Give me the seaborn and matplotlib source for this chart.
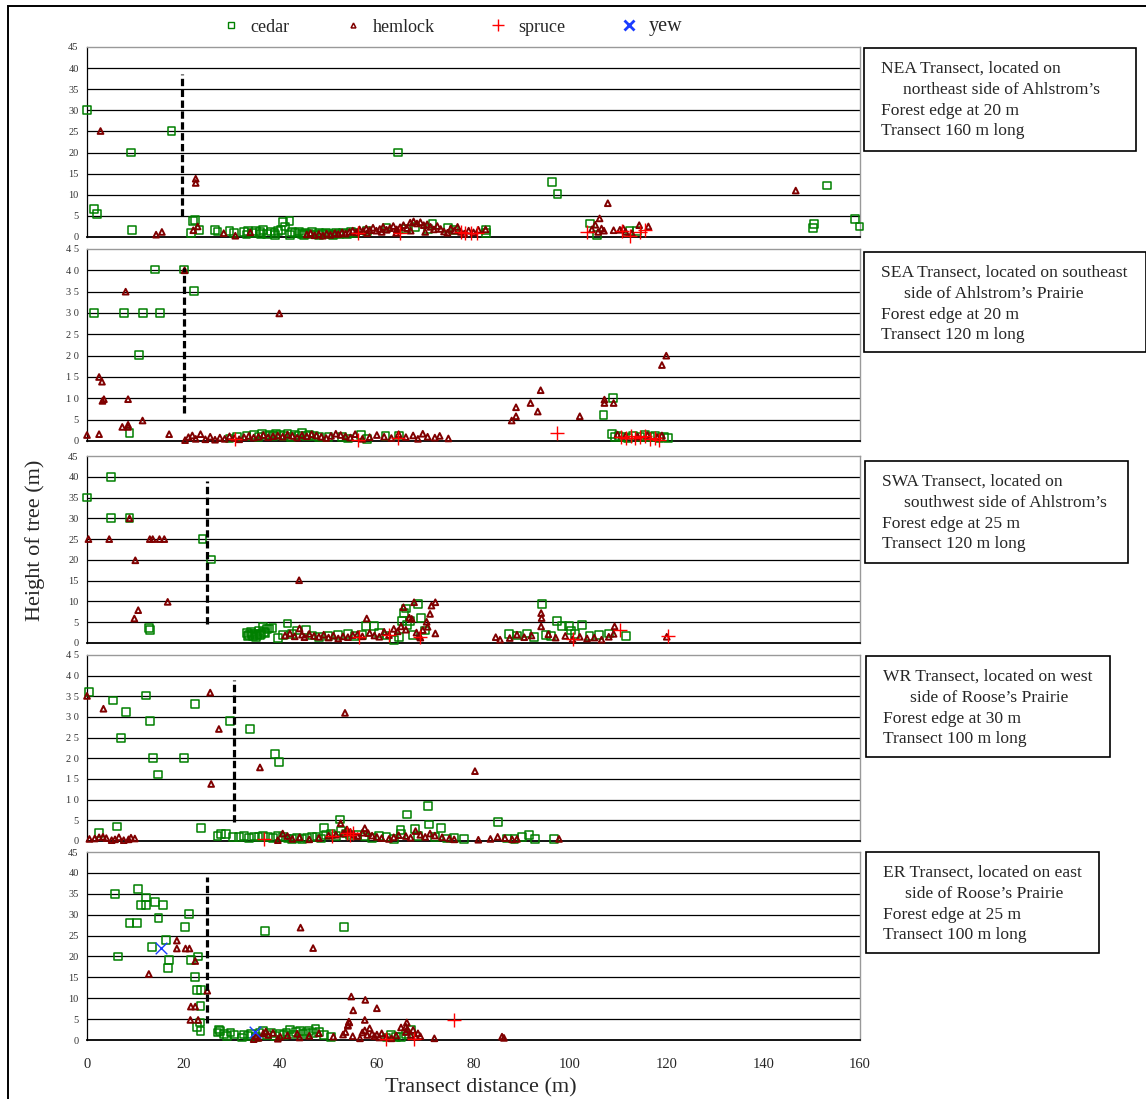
import matplotlib
matplotlib.use("Agg")
import pandas as pd
import matplotlib.pyplot as plt
from matplotlib.lines import Line2D
from matplotlib.patches import Rectangle
import seaborn as sns

# Datos: (distancia m, altura m)
nea_cedar = [(0, 30), (1.5, 6.6), (2, 5.5), (9.1, 20), (9.3, 1.7), (17.5, 25.1), (21.6, 0.9), (22, 3.7),
             (22.4, 4.1), (23.3, 1.7), (26.5, 1.7), (27, 1.3), (29.5, 1.5), (30.5, 1.0),
             (32.5, 1.2), (33.4, 1.5), (34.2, 0.9), (35, 1.4), (35.8, 1.1), (36.5, 1.6), (37.3, 0.8), (38, 1.3),
             (38.8, 1.0), (39.5, 1.5), (40.2, 1.7), (40.6, 3.5), (41, 2.5), (41.9, 3.7), (42.5, 1.2), (43.1, 0.9),
             (43.8, 1.3), (44.5, 0.7), (45.2, 1.0), (45.9, 0.8), (46.6, 1.1), (47.3, 0.6), (48, 0.9), (48.7, 0.7),
             (49.4, 1.0), (50.1, 0.8), (50.8, 0.6), (51.5, 0.9), (52.2, 0.7), (53, 1.0), (53.8, 0.8), (54.6, 1.2),
             (55.4, 0.9), (33, 0.6), (36, 0.7), (39, 0.5), (42, 0.4), (45, 0.5), (48, 0.4), (51, 0.5),
             (58, 1.5), (62, 2.2), (64.3, 20), (66, 1.8), (68, 2.4), (70.5, 1.8), (71.5, 3.0), (74.8, 2.1),
             (76, 1.6), (82.5, 1.7), (82.6, 0.9),
             (96.2, 13.0), (97.4, 10.1), (104.1, 3.2), (105.5, 0.4), (112.3, 1.5), (113.8, 1.5), (150.2, 2.1),
             (150.4, 3.0), (153.1, 12.2), (159, 4.2), (159.9, 2.5)]
nea_hemlock = [(2.8, 25.1), (14.3, 0.55), (15.5, 1.2), (22.5, 13.8), (22.5, 12.8), (22, 1.6), (22.9, 2.5),
               (28.3, 0.9), (30.7, 0.3), (33.8, 1.1), (107.8, 8.0), (146.7, 11.0),
               (45.5, 0.6), (46.3, 0.9), (47.1, 0.4), (48, 0.7), (48.8, 0.3), (49.6, 0.8), (50.4, 0.5), (51.3, 0.9),
               (52, 0.7), (52.8, 1.1), (53.5, 0.8), (54.3, 1.2), (55, 1.5), (55.7, 1.1), (56.4, 1.8), (57.1, 1.4),
               (57.8, 2.0), (58.5, 1.6), (59.2, 2.2), (59.9, 1.5), (60.6, 1.9), (61.3, 2.4), (62, 1.7), (62.7, 2.1),
               (63.4, 2.6), (64.1, 1.8), (64.8, 2.3), (65.5, 2.8), (66.2, 2.1), (66.9, 3.4), (67.6, 3.7), (68.3, 3.2),
               (69, 3.5), (69.7, 2.8), (70.4, 3.0), (71.1, 2.4), (71.8, 1.8), (72.5, 2.6), (73.2, 1.9), (73.9, 1.3),
               (74.6, 1.0), (75.3, 2.0), (76, 1.5), (76.7, 2.4), (77.4, 1.2), (78.1, 0.8), (79, 1.5), (80, 1.1),
               (81, 1.7), (82.5, 1.8), (58, 0.9), (61, 1.2), (64, 1.0), (67, 1.5), (70, 1.2),
               (104.5, 1.8), (105.2, 2.9), (106.1, 4.4), (105.8, 1.2), (106.5, 2.0), (107, 1.5), (109, 1.6),
               (110.3, 1.7), (111, 2.0), (111.5, 1.2), (114.3, 2.8), (116.2, 2.5), (112.8, 0.9)]
nea_spruce = [(56.1, 0.9), (64.8, 0.9), (77.5, 1.3), (78.3, 1.0), (79.5, 1.0), (80.7, 1.0), (103.4, 1.2),
              (110.7, 1.5), (112.4, 0.3), (114.5, 1.1), (115.5, 1.7)]

sea_cedar = [(1.4, 30.1), (7.6, 30), (11.6, 30), (15.1, 30), (14.1, 40.2), (20.1, 40.2), (22.1, 35.2),
             (10.8, 20.1), (8.8, 1.8),
             (29.5, 0.6), (31, 0.9), (33, 1.2), (34.5, 1.4), (35.5, 1.0), (36.3, 1.6), (37, 1.3), (37.8, 1.5),
             (38.5, 1.1), (39.2, 1.7), (40, 1.4), (40.8, 1.2), (41.5, 1.6), (42.3, 1.0), (43, 1.5), (43.8, 1.3),
             (44.5, 1.8), (45.3, 1.1), (46, 1.5), (47, 1.2), (48, 0.9), (50, 1.0), (52.8, 1.0), (54, 0.6),
             (56.8, 1.4), (58, 0.5), (61.8, 1.1), (64.6, 1.3),
             (108.8, 10.0), (106.9, 6.1), (108.6, 1.6), (109.2, 0.9), (110, 1.2), (111, 1.0), (112, 0.8),
             (113, 1.3), (114.5, 1.0), (115.5, 1.4), (116.5, 0.9), (117.5, 1.2), (118.5, 0.8), (119.5, 1.0),
             (120.2, 0.7)]
sea_hemlock = [(0, 1.4), (2.5, 1.6), (2.5, 15), (3.1, 13.9), (3.2, 9.4), (3.5, 9.8), (8, 35), (8.5, 9.8),
               (8.5, 3.8), (8.5, 3.3), (7.3, 3.3), (11.5, 4.8), (17, 1.6), (20.2, 40), (39.8, 29.9),
               (20.3, 0.2), (21, 0.9), (21.8, 1.3), (22.5, 0.5), (23.5, 1.6), (24.5, 0.4), (25.5, 1.0), (26.5, 0.3),
               (27.5, 0.8), (28.5, 0.5), (29.5, 1.1), (30.5, 0.7), (31.5, 0.4), (32.5, 0.9), (33.5, 1.2), (34.5, 0.8),
               (35.5, 1.0), (36.5, 1.4), (37.5, 0.9), (38.5, 1.1), (39.5, 1.3), (40.5, 1.0), (41.5, 1.5), (42.5, 1.2),
               (43.5, 0.8), (44.5, 1.4), (45.5, 1.1), (46.5, 1.6), (47.5, 1.3), (48.5, 1.0), (49.5, 0.7), (50.5, 1.2),
               (51.5, 1.7), (52.5, 1.4), (53.5, 1.1), (54.5, 0.8), (55.5, 1.6), (57, 0.5), (58.5, 0.9), (60, 1.4),
               (61.5, 1.0), (63, 0.7), (64.5, 1.6), (66, 0.9), (67.5, 1.3), (68.5, 0.5), (69.5, 1.7), (70.5, 1.0),
               (72, 0.8), (73, 1.2), (74.8, 0.6),
               (119.9, 20.0), (119, 17.8), (93.9, 11.9), (91.8, 8.9), (88.8, 7.9), (93.3, 6.9), (88.8, 5.8),
               (87.9, 4.8), (102, 5.8), (107.1, 9.7), (107.1, 8.9), (109, 8.9), (109.8, 1.5), (111.5, 1.2),
               (114, 1.0), (116, 1.4), (118, 0.9), (119, 1.3)]
sea_spruce = [(30.6, 0.5), (56, 0.2), (64.4, 0.6), (97.3, 1.9), (110.5, 1.0), (111.5, 0.7), (112.5, 1.1),
              (113.5, 0.6), (114.5, 0.9), (115.5, 1.2), (116.5, 0.5), (117.5, 0.8), (118.3, 0.2)]

swa_cedar = [(0, 35), (4.9, 40), (4.9, 30), (8.8, 30), (12.9, 3.7), (13, 3.1), (23.9, 25.1), (25.7, 20.1),
             (33.2, 2.5), (33.6, 1.9), (34, 2.6), (34.4, 1.6), (34.8, 2.3), (35.2, 1.8), (35.6, 2.8), (36, 2.1),
             (36.4, 3.8), (36.8, 2.4), (37.2, 3.4), (33.4, 1.7), (34.2, 2.1), (35, 1.5), (35.8, 2.0), (36.6, 2.6),
             (37.6, 3.5), (38.4, 3.7),
             (39.5, 1.3), (40.5, 1.9), (41.5, 4.7), (42.5, 2.1), (43.5, 3.0), (45.3, 3.1), (46.5, 1.8), (48, 1.5),
             (50, 1.7), (52, 1.9), (54, 2.2), (55.5, 1.6), (57, 1.9), (57.7, 4.1), (59.4, 4.1), (60.5, 2.5),
             (62, 1.8), (63.5, 0.8), (64.5, 1.5), (65.2, 5.2), (65.7, 7.3), (66, 8.3), (66.3, 4.4), (66.8, 5.3),
             (67.5, 2.0), (68.5, 9.3), (69.2, 6.1), (70, 3.0),
             (87.4, 2.1), (89, 1.8), (91, 2.3), (92.5, 1.5), (94.1, 9.3), (95, 2.0), (96, 1.6), (97.2, 5.3),
             (98.3, 4.1), (99.7, 4.1), (100.1, 3.0), (101, 2.2), (102.5, 4.4), (104, 1.7), (106, 1.9),
             (108, 2.3), (111.5, 1.7)]
swa_hemlock = [(0.3, 25), (4.6, 25), (8.8, 30), (10, 19.9), (9.8, 5.9), (10.6, 7.9), (13, 25), (13.6, 25),
               (15, 25), (16, 25), (16.7, 9.9), (43.9, 15.1),
               (41, 1.8), (42, 2.3), (43, 1.6), (44, 3.5), (44.5, 2.0), (45, 1.4), (46, 2.2), (47, 1.7), (48, 1.5),
               (49, 2.0), (50, 1.3), (51, 1.8), (52, 1.1), (53, 1.6), (54, 1.4), (55, 1.9), (56, 2.1), (57, 1.6),
               (57.9, 5.9), (58.5, 2.4), (59.5, 1.8), (60.5, 1.5), (61.5, 2.7), (62.5, 1.9), (63.5, 3.4),
               (64.3, 2.8), (65, 4.0), (65.5, 8.6), (66, 3.2), (66.7, 6.1), (67.2, 5.8), (67.7, 9.8), (68.2, 2.5),
               (68.8, 1.7), (69.5, 3.1), (70.3, 5.1), (71, 7.0), (71.3, 9.0), (72.1, 9.8), (72.1, 2.3),
               (70.5, 3.9), (69, 1.3),
               (84.6, 1.4), (85.5, 0.8), (87.5, 1.2), (89, 2.0), (90.5, 1.4), (92, 1.8), (94, 4.0), (94, 7.2),
               (94.1, 6.0), (95.5, 2.1), (97, 1.3), (99, 1.7), (100.5, 0.9), (102, 1.5), (103.5, 1.1),
               (105, 1.3), (106.5, 0.8), (108, 1.5), (109.2, 4.0), (109, 2.2), (120, 1.5)]
swa_spruce = [(56.3, 1.5), (62.6, 1.9), (69, 1.5), (100.5, 1.0), (110.4, 3.2), (120.2, 1.7)]

wr_cedar = [(0.5, 36.1), (5.4, 34), (7, 25), (8.1, 31.2), (12.2, 35.2), (13, 29.1), (13.6, 20), (14.7, 16.1),
            (20, 20), (22.4, 33.1), (23.6, 3.1), (29.6, 29.1), (33.8, 27.2), (39, 21), (39.8, 19.2), (2.4, 1.9),
            (6.2, 3.5), (27, 1.2), (27.8, 1.7), (28.8, 1.7), (30.2, 0.9), (52.3, 5.2), (49.1, 3.2), (66.3, 6.4),
            (70.6, 8.5), (70.8, 4.0), (85, 4.7), (67.9, 2.8), (73.3, 3.1), (64.9, 2.7), (92.7, 0.4), (96.6, 0.4),
            (31.5, 1.0), (32.5, 1.2), (33.5, 0.8), (34.5, 1.1), (35.5, 0.9), (36.5, 1.3), (37.5, 1.0), (38.5, 0.7),
            (39.5, 1.2), (40.5, 0.9), (41.5, 0.6), (42.5, 0.4), (43.5, 0.8), (44.5, 0.5), (45.5, 0.7), (46.5, 0.9),
            (47.5, 1.1), (48.5, 0.6), (49.5, 1.4), (50.5, 1.6), (51.5, 1.2), (52.5, 2.5), (53.5, 1.8), (54.5, 1.5),
            (56, 1.4), (57.5, 1.1), (59, 0.8), (60.5, 1.3), (62, 0.9), (63.5, 0.5), (65, 1.6), (68.5, 1.2),
            (72, 1.0), (74.5, 0.6), (76, 0.8), (78, 0.4), (87, 0.6), (88.5, 0.4), (90, 0.9), (91.5, 1.5)]
wr_hemlock = [(0, 35.1), (3.4, 32), (25.5, 35.9), (27.3, 27.1), (25.7, 13.8), (35.8, 17.8), (53.4, 31),
              (80.3, 16.9), (97.7, 0.5), (52.5, 4.3),
              (0.5, 0.5), (1.6, 0.6), (2.5, 0.9), (3.3, 1.0), (4, 0.7), (5.1, 0.2), (5.8, 0.4), (6.6, 0.9),
              (7.6, 0.2), (8.6, 0.4), (9.1, 0.8), (9.9, 0.6),
              (39.5, 0.2), (40.5, 1.8), (41.5, 1.2), (42.5, 0.5), (44, 0.9), (46, 0.4), (48, 0.7), (50, 1.3),
              (51.5, 1.5), (53, 1.8), (53.8, 2.8), (54.5, 2.2), (55.2, 1.6), (56, 1.2), (57, 2.0), (57.5, 3.1),
              (58.2, 1.9), (59, 1.3), (60, 1.0), (61, 0.7), (62.5, 0.5), (63.5, 0.9), (64.5, 1.4), (66, 1.2),
              (67, 0.8), (68, 2.4), (69, 1.5), (70, 1.0), (71, 1.8), (72, 1.3), (73.5, 0.9), (75, 0.6), (76, 0.4),
              (81, 0.3), (83.5, 0.5), (85, 1.0), (86.5, 0.7), (88, 0.4), (89, 0.5)]
wr_spruce = [(36.6, 0.6), (50.7, 1.3), (53.8, 1.9), (54.4, 1.5), (55, 2.0)]

er_cedar = [(5.8, 34.9), (6.4, 20), (8.8, 28), (10.4, 28), (10.6, 36.2), (11.1, 32.3), (12.3, 32.3),
            (12.3, 34.1), (13.4, 22.2), (14, 33.1), (14.8, 29.2), (15.7, 32.3), (16.4, 24), (16.7, 17.3),
            (16.9, 19.1), (20.2, 27), (21.2, 30.1), (21.6, 19.1), (22.3, 15.1), (23, 20), (22.7, 12), (23.6, 12),
            (23.5, 8.2), (22.7, 3.2), (23.4, 4.2), (23.5, 2.2), (36.8, 26.1), (53.2, 27),
            (27.0, 1.8), (27.3, 2.5), (27.6, 2.2), (28.3, 1.4), (29, 0.9), (29.7, 1.8), (30.5, 1.3), (32, 0.6),
            (32.5, 1.3), (33.3, 1.0), (34, 1.5), (35, 0.7), (35.7, 1.8), (36.5, 2.2), (37.3, 1.2), (38, 1.7),
            (39, 0.9), (40, 1.4), (40.7, 1.2), (41.3, 1.8), (42, 2.5), (42.7, 1.3), (43.3, 1.9), (44, 2.1),
            (44.7, 1.5), (45.3, 1.8), (46, 2.2), (46.7, 1.6), (47.3, 2.6), (48, 2.0), (49, 1.2), (50.5, 0.7),
            (62, 0.6), (63, 1.1), (64, 0.8), (65, 0.7), (66, 1.5), (67, 2.3)]
er_hemlock = [(12.8, 15.8), (18.6, 23.8), (18.6, 21.9), (20.4, 21.9), (21.2, 21.9), (22.4, 18.9), (21.5, 8),
              (22.4, 8), (21.4, 4.8), (23, 4.8), (24.9, 11.8), (44.2, 26.9), (46.8, 22),
              (54.7, 10.4), (57.6, 9.6), (55.1, 7.1), (60, 7.6), (57.5, 4.8), (54.2, 4.4), (54, 3.6), (66.2, 4.2),
              (66, 3.2), (71.9, 0.4), (85.9, 0.8), (86.3, 0.5),
              (34.5, 0.2), (35, 0.9), (35.5, 0.5), (36.5, 1.6), (37, 2.0), (37.5, 1.2), (38.5, 1.7), (39.5, 0.3),
              (40, 0.8), (41.5, 1.1), (43.5, 1.5), (44, 0.6), (46, 1.0), (48, 1.6), (51, 0.8), (53, 1.3),
              (53.5, 1.9), (54, 3.4), (54.3, 4.2), (55, 0.9), (56.5, 0.4), (57, 1.8), (57.5, 2.3), (58, 1.2),
              (58.5, 2.8), (59, 1.5), (59.5, 0.9), (60, 1.3), (60.5, 0.6), (61, 1.6), (62, 0.7), (63, 0.4),
              (64, 1.1), (65, 3.0), (66, 1.9), (66.3, 2.6), (67, 1.2), (67.5, 2.4), (68, 0.8), (68.5, 1.6), (69, 0.9)]
er_spruce = [(61.8, 0.3), (67.6, 0.3), (76, 4.8)]
er_yew = [(15.4, 22), (34.7, 1.8)]

transects = ["NEA", "SEA", "SWA", "WR", "ER"]
species_order = ["cedar", "hemlock", "spruce", "yew"]
edge_at = [19.6, 20, 24.8, 30.5, 24.8]
edge_lo = [5, 6.5, 4.5, 4.5, 4]
edge_hi = [38.5, 40.5, 39, 39, 39]

box_text = [
    ["NEA Transect, located on", "northeast side of Ahlstrom\u2019s", "Forest edge at 20 m", "Transect 160 m long"],
    ["SEA Transect, located on southeast", "side of Ahlstrom\u2019s Prairie", "Forest edge at 20 m", "Transect 120 m long"],
    ["SWA Transect, located on", "southwest side of Ahlstrom\u2019s", "Forest edge at 25 m", "Transect 120 m long"],
    ["WR Transect, located on west", "side of Roose\u2019s Prairie", "Forest edge at 30 m", "Transect 100 m long"],
    ["ER Transect, located on east", "side of Roose\u2019s Prairie", "Forest edge at 25 m", "Transect 100 m long"],
]

points = {
    ("NEA", "cedar"): nea_cedar, ("NEA", "hemlock"): nea_hemlock, ("NEA", "spruce"): nea_spruce,
    ("SEA", "cedar"): sea_cedar, ("SEA", "hemlock"): sea_hemlock, ("SEA", "spruce"): sea_spruce,
    ("SWA", "cedar"): swa_cedar, ("SWA", "hemlock"): swa_hemlock, ("SWA", "spruce"): swa_spruce,
    ("WR", "cedar"): wr_cedar, ("WR", "hemlock"): wr_hemlock, ("WR", "spruce"): wr_spruce,
    ("ER", "cedar"): er_cedar, ("ER", "hemlock"): er_hemlock, ("ER", "spruce"): er_spruce, ("ER", "yew"): er_yew,
}
rows = []
for (tr, sp), pts in points.items():
    for x, y in pts:
        rows.append((tr, sp, x, y))
df = pd.DataFrame(rows, columns=["transect", "species", "distance", "height"])

# Estilo
sns.set_style("white")
plt.rcParams["font.family"] = ["Liberation Serif", "DejaVu Serif"]

green, dred, red, blue = "#008000", "#800000", "#ff0000", "#1a3cff"
styles = {
    "cedar": dict(marker="s", s=32, color=green, facecolor="none", edgecolor=green, linewidth=1.1),
    "hemlock": dict(marker="^", s=17, color=dred, facecolor="none", edgecolor=dred, linewidth=1.4),
    "spruce": dict(marker="+", s=95, color=red, linewidth=1.0),
    "yew": dict(marker="x", s=70, color=blue, linewidth=1.0),
}

W, H = 1146, 1099
fig = plt.figure(figsize=(W / 100, H / 100), dpi=100)
tops = [47, 249, 456, 655, 852]
bots = [237, 441, 643, 841, 1040]
spaced = [False, True, False, True, False]
boxes = [(864, 48, 1136, 151), (864, 252, 1146, 352), (865, 461, 1128, 563),
         (866, 656, 1110, 757), (866, 852, 1099, 953)]
indent = [22, 23, 22, 27, 22]

for i, name in enumerate(transects):
    ax = fig.add_axes([87 / W, 1 - bots[i] / H, 773 / W, (bots[i] - tops[i]) / H])
    sub = df[df["transect"] == name]
    for sp in species_order:
        d = sub[sub["species"] == sp]
        if d.empty:
            continue
        sns.scatterplot(data=d, x="distance", y="height", ax=ax, legend=False,
                        zorder=3, clip_on=False, **styles[sp])
    ax.vlines(edge_at[i], edge_lo[i], edge_hi[i], color="black", lw=2.3,
              linestyles=(0, (2.3, 1.1)), zorder=4)
    ax.set_xlim(0, 160)
    ax.set_ylim(0, 45)
    ax.set_xlabel("")
    ax.set_ylabel("")
    yt = list(range(0, 46, 5))
    ax.set_yticks(yt)
    ax.set_yticklabels([" ".join(str(v)) if spaced[i] else str(v) for v in yt],
                       fontsize=7.5, color="#333333")
    ax.set_xticks(range(0, 161, 20))
    ax.tick_params(axis="x", direction="inout", length=8, width=1.1, color="black",
                   labelbottom=(i == 4), labelsize=10.5, pad=9)
    ax.tick_params(axis="y", direction="out", length=3, width=0.8, pad=3)
    ax.set_axisbelow(True)
    ax.grid(axis="y", color="black", lw=0.9)
    ax.grid(axis="x", visible=False)
    gl = ax.get_ygridlines()
    gl[0].set_visible(False)
    gl[-1].set_visible(False)
    ax.spines["left"].set_color("black")
    ax.spines["left"].set_linewidth(0.9)
    ax.spines["bottom"].set_color("black")
    ax.spines["bottom"].set_linewidth(1.3)
    for s in ("top", "right"):
        ax.spines[s].set_color("#999999")
        ax.spines[s].set_linewidth(1.0)
    ax.set_facecolor("white")

    # cuadro de texto
    l, t, r, b = boxes[i]
    fig.patches.append(Rectangle((l / W, 1 - b / H), (r - l) / W, (b - t) / H, transform=fig.transFigure,
                                 fill=True, facecolor="white", edgecolor="black", lw=1.2, zorder=5))
    y0 = t + 21
    for k, line in enumerate(box_text[i]):
        xx = l + 17 + (indent[i] if k == 1 else 0)
        fig.text(xx / W, 1 - (y0 + k * 20.8) / H, line, ha="left", va="center", fontsize=12.6, zorder=6)

# marco exterior
fig.patches.append(Rectangle((8 / W, -0.01), 1.1, 1 - 6 / H + 0.01, transform=fig.transFigure,
                             fill=False, edgecolor="black", lw=1.4))

# leyenda
handles = [
    Line2D([], [], ls="none", marker="s", ms=5, mfc="none", mec=green, mew=1.0),
    Line2D([], [], ls="none", marker="^", ms=3.5, mfc="none", mec=dred, mew=1.1),
    Line2D([], [], ls="none", marker="+", ms=9, mec=red, mew=1.0),
    Line2D([], [], ls="none", marker="x", ms=7, mec=blue, mew=2.0),
]
leg = fig.legend(handles, species_order, loc="center", bbox_to_anchor=(452 / W, 1 - 27 / H), ncol=4,
                 frameon=False, handlelength=1.0, handletextpad=0.6, columnspacing=3.0,
                 prop={"family": "Liberation Serif", "size": 13})
leg.get_texts()[3].set_fontsize(14.5)

fig.text(481 / W, 1 - 1088 / H, "Transect distance (m)", ha="center", va="center", fontsize=16)
fig.text(35 / W, 1 - 540 / H, "Height of tree (m)", ha="center", va="center", rotation=90, fontsize=16)

fig.savefig("out.png", dpi=100)
